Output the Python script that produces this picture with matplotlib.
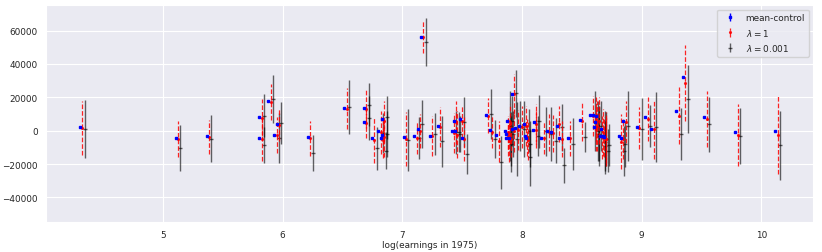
import numpy as np
import matplotlib
matplotlib.use("Agg")
import matplotlib.pyplot as plt
import seaborn as sns

sns.set_style("darkgrid")
plt.rcParams['font.family'] = ['DejaVu Sans']

x = [4.307, 5.106, 5.365, 5.807, 5.807, 5.880, 5.930, 5.950, 6.210, 6.517,
     6.678, 6.678, 6.745, 6.800, 6.830, 6.830, 6.820, 7.010, 7.156, 7.100,
     7.128, 7.231, 7.295, 7.412, 7.430, 7.440, 7.479, 7.498, 7.699, 7.732,
     7.785, 7.913, 7.860, 7.866, 7.870, 7.888, 7.877, 7.916, 7.944, 7.977,
     8.016, 8.024, 8.030, 8.100, 8.094, 8.160, 8.205, 8.240, 8.290, 8.310,
     8.383, 8.483, 8.570, 8.595, 8.620, 8.600, 8.606, 8.650, 8.656, 8.664,
     8.679, 8.683, 8.810, 8.823, 8.845, 8.959, 9.030, 9.080, 9.288, 9.343,
     9.524, 9.783, 10.117]

mean_control = [2000, -4400, -3400, 8400, -4400, 18000, -2600, 3800, -3600, 13600,
                13600, 5400, -4400, -200, 7000, -2600, -4400, -3600, 56400, -3000,
                1000, -3000, 2600, -200, 6000, -200, 7000, -4200, 9200, 600,
                -2600, 22200, 0, -1800, -4200, -4200, 5600, 1000, 1600, 3000,
                4000, -3400, -4400, 5000, 600, -4400, 0, -600, 3000, -4600,
                -4600, 6600, 9600, 9600, 9000, 2400, 5400, -3400, 1000, -3000,
                -3000, -4000, -3400, -4200, 6000, 2000, 8400, 800, 11600, 32400,
                8400, -600, 0]

lam1 = [1600, -5000, -4000, 7800, -5000, 17300, -2700, 3600, -4500, 13200,
        13000, 4700, -5700, -1000, 5500, -3800, -5500, -5000, 56400, -4300,
        -300, -3000, 2000, -1500, 5000, -2500, 5500, -5000, 9000, -600,
        -6300, 22200, -1000, -3000, -6000, -5000, 4000, 0, 500, 2000,
        3000, -4000, -5500, 4000, 500, -4500, -1000, -1500, 4000, -5000,
        -4500, 5500, 9000, 7000, 6000, 1000, 3000, -4000, -1000, -4000,
        -5000, -5000, -6500, -5000, 5000, 1500, 7000, 800, 9000, 28400,
        6800, -2600, -2600]

lam1_err = [16000, 10600, 10200, 11000, 13000, 10700, 10700, 10000, 10500, 12200,
            11500, 9300, 13700, 13000, 12000, 12000, 11000, 16000, 10000, 9700,
            10300, 12000, 12000, 12000, 13000, 14000, 10000, 13000, 10400, 10000,
            12300, 12000, 10000, 12000, 12500, 11000, 12000, 13000, 12000, 12500,
            12000, 11000, 12000, 12000, 11000, 9500, 11000, 11000, 11000, 11000,
            10500, 11500, 12000, 13000, 14000, 13000, 15000, 13000, 14000, 12000,
            16000, 14000, 16500, 12000, 12500, 12500, 13000, 17500, 17000, 22800,
            16700, 18800, 23200]

lam001 = [900, -10300, -4700, 9000, -8600, 19000, -4400, 4600, -13600, 14200,
          15600, 7600, -10600, -1600, 8000, -2000, -12000, -5600, 53000, -4500,
          4000, -2000, -6400, -1000, -600, -2000, 5000, -14200, 10000, -5000,
          -19000, 22400, 3000, -5000, -8000, -2000, 6000, -5000, 3000, 1000,
          0, -8000, -16000, 5600, -3000, -500, -2000, -6000, 2000, -20600,
          -8000, -4000, 6000, 0, 3000, -2000, -3000, -7000, -9000, -5000,
          -12000, -8500, -12000, -8000, 3000, 800, 3000, 2000, -2200, 19000,
          3800, -3200, -8800]

lam001_err = [17500, 13700, 13900, 13000, 11000, 14500, 15000, 12500, 10800, 16200,
              12800, 13000, 12700, 12000, 13000, 14000, 11000, 18500, 14300, 12500,
              14200, 12800, 15300, 13000, 12000, 11000, 15000, 12000, 14800, 11500,
              16000, 14000, 21000, 16000, 17000, 14000, 15000, 22000, 15000, 17000,
              13000, 14000, 17000, 16000, 12000, 14500, 16000, 13500, 14000, 10500,
              15300, 9000, 18000, 18000, 15000, 16000, 18000, 19000, 15000, 16000,
              13000, 12500, 15000, 14000, 21000, 18500, 12500, 21000, 15500, 20600,
              16500, 16800, 20700]

xa = np.array(x)
fig = plt.figure(figsize=(8.22, 2.53), dpi=100)
ax = fig.add_subplot(111)
fig.subplots_adjust(left=0.0554, right=0.989, bottom=0.119, top=0.976)

ax.errorbar(xa, mean_control, yerr=np.zeros(len(xa)), fmt='s', color='blue',
            ms=1.8, lw=1.0, label='mean-control', zorder=3)
eb = ax.errorbar(xa + 0.02, lam1, yerr=lam1_err, fmt='.', color='red',
                 ms=2.5, lw=0.9, alpha=0.85, label=r'$\lambda = 1$', zorder=2)
eb[-1][0].set_linestyle('--')
ax.errorbar(xa + 0.04, lam001, yerr=lam001_err, fmt='_', color='black',
            ms=3, lw=1.0, alpha=0.6, label=r'$\lambda = 0.001$', zorder=1)

ax.set_xlim(4.02, 10.43)
ax.set_ylim(-54700, 75300)
ax.set_xlabel('log(earnings in 1975)', fontsize=6.4, labelpad=1)
ax.tick_params(labelsize=6.4, pad=2)
ax.legend(loc='upper right', fontsize=6.4, frameon=True)

fig.savefig('out.png', dpi=100)
